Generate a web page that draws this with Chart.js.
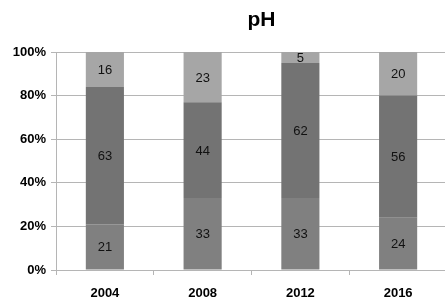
<!DOCTYPE html>
<html>
<head>
<meta charset="utf-8">
<script src="https://cdn.jsdelivr.net/npm/chart.js@4/dist/chart.umd.min.js"></script>
<style>
html,body{margin:0;padding:0;background:#fff;overflow:hidden;}
#wrap{width:447px;height:307px;}
</style>
</head>
<body>
<div id="wrap"><canvas id="c" width="447" height="307"></canvas></div>
<script>
const categories = ['2004', '2008', '2012', '2016'];
const bottomValues = [21, 33, 33, 24];
const middleValues = [63, 44, 62, 56];
const topValues = [16, 23, 5, 20];
const yTicks = [0, 20, 40, 60, 80, 100];
const titleText = 'pH';

const labelPlugin = {
  id: 'segLabels',
  afterDatasetsDraw(chart) {
    const ctx = chart.ctx;
    ctx.save();
    ctx.font = '13px "Liberation Sans", Arial, sans-serif';
    ctx.fillStyle = '#111';
    ctx.textAlign = 'center';
    ctx.textBaseline = 'middle';
    chart.data.datasets.forEach((ds, di) => {
      const meta = chart.getDatasetMeta(di);
      meta.data.forEach((bar, i) => {
        const p = bar.getProps(['x', 'y', 'base'], true);
        const cy = (p.y + p.base) / 2;
        ctx.fillText(String(ds.data[i]), p.x, cy + 1);
      });
    });
    ctx.restore();
  }
};

const titlePlugin = {
  id: 'customTitle',
  afterDraw(chart) {
    const ctx = chart.ctx;
    const a = chart.chartArea;
    ctx.save();
    ctx.font = 'bold 21px "Liberation Sans", Arial, sans-serif';
    ctx.fillStyle = '#000';
    ctx.textAlign = 'center';
    ctx.textBaseline = 'middle';
    ctx.fillText(titleText, (a.left + a.right) / 2 + 10, 20);
    ctx.restore();
  }
};

new Chart(document.getElementById('c'), {
  type: 'bar',
  data: {
    labels: categories,
    datasets: [
      { label: 'bottom', data: bottomValues, backgroundColor: '#808080' },
      { label: 'middle', data: middleValues, backgroundColor: '#737373' },
      { label: 'top', data: topValues, backgroundColor: '#a6a6a6' }
    ]
  },
  options: {
    responsive: false,
    animation: false,
    layout: { padding: { top: 52, right: 0, left: 0, bottom: 0 } },
    plugins: { legend: { display: false }, tooltip: { enabled: false }, title: { display: false } },
    datasets: { bar: { barPercentage: 0.39, categoryPercentage: 1.0, borderWidth: 0 } },
    scales: {
      x: {
        stacked: true,
        grid: { display: true, offset: true, drawOnChartArea: false, tickLength: 5, color: '#b5b5b5' },
        border: { display: true, color: '#b5b5b5' },
        ticks: { color: '#000', font: { family: '"Liberation Sans", Arial, sans-serif', size: 13, weight: 'bold' }, padding: 11 },
        afterFit(s) { s.height = 37; }
      },
      y: {
        stacked: true,
        min: 0, max: 100,
        afterBuildTicks(s) { s.ticks = yTicks.map(v => ({ value: v })); },
        grid: { color: '#b5b5b5', tickLength: 5 },
        border: { display: true, color: '#b5b5b5' },
        ticks: { color: '#000', font: { family: '"Liberation Sans", Arial, sans-serif', size: 13, weight: 'bold' }, padding: 5, callback: v => v + '%' },
        afterFit(s) { s.width = 56; }
      }
    }
  },
  plugins: [labelPlugin, titlePlugin]
});
</script>
</body>
</html>
